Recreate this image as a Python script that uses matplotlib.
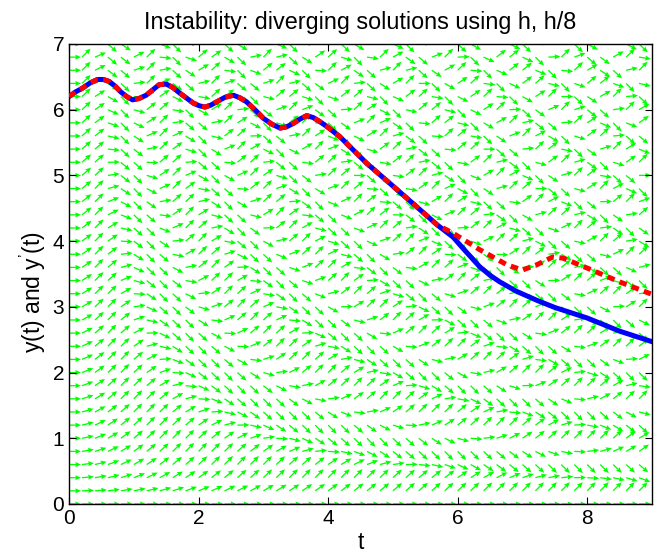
import numpy as np
import matplotlib
matplotlib.use('Agg')
import matplotlib.pyplot as plt

plt.rcParams['font.family'] = ['Liberation Sans', 'DejaVu Sans']
plt.rcParams['mathtext.fontset'] = 'custom'
plt.rcParams['mathtext.rm'] = 'Liberation Sans'

# direction-field grid (tail of each arrow), field of y' = sin(t*y)
t_grid = np.arange(0, 9.0001, 0.2)
y_grid = np.arange(0, 7.0001, 0.2)

# solution: step h/8 (blue) and h (red dashed)
t_fine = [0.0, 0.10, 0.21, 0.33, 0.44, 0.53, 0.62, 0.71, 0.80, 0.89, 0.98, 1.08,
          1.19, 1.29, 1.39, 1.50, 1.60, 1.70, 1.81, 1.92, 2.01, 2.10, 2.19, 2.28,
          2.41, 2.54, 2.64, 2.74, 2.87, 3.00, 3.13, 3.26, 3.36, 3.46, 3.57, 3.67,
          3.77, 3.87, 4.00, 4.18, 4.60, 5.01, 5.37, 5.68, 5.93, 6.10, 6.34, 6.50,
          6.65, 6.90, 7.22, 7.50, 8.00, 8.50, 9.00]
y_fine = [6.20, 6.27, 6.33, 6.41, 6.46, 6.46, 6.43, 6.36, 6.27, 6.20, 6.15, 6.17,
          6.22, 6.30, 6.38, 6.39, 6.34, 6.26, 6.18, 6.10, 6.06, 6.04, 6.07, 6.12,
          6.19, 6.22, 6.18, 6.12, 6.00, 5.87, 5.78, 5.72, 5.74, 5.79, 5.86, 5.91,
          5.88, 5.82, 5.73, 5.59, 5.18, 4.83, 4.52, 4.25, 4.06, 3.87, 3.61, 3.48,
          3.38, 3.24, 3.10, 2.99, 2.83, 2.63, 2.47]
t_coarse = [0.0, 0.10, 0.21, 0.33, 0.44, 0.53, 0.62, 0.71, 0.80, 0.89, 0.98, 1.08,
            1.19, 1.29, 1.39, 1.50, 1.60, 1.70, 1.81, 1.92, 2.01, 2.10, 2.19, 2.28,
            2.41, 2.54, 2.64, 2.74, 2.87, 3.00, 3.13, 3.26, 3.36, 3.46, 3.57, 3.67,
            3.77, 3.87, 4.00, 4.18, 4.60, 5.01, 5.37, 5.68, 5.93, 6.34, 6.76, 7.00,
            7.22, 7.47, 7.63, 8.00, 8.50, 9.00]
y_coarse = [6.20, 6.27, 6.33, 6.41, 6.46, 6.46, 6.43, 6.36, 6.27, 6.20, 6.15, 6.17,
            6.22, 6.30, 6.38, 6.39, 6.34, 6.26, 6.18, 6.10, 6.06, 6.04, 6.07, 6.12,
            6.19, 6.22, 6.18, 6.12, 6.00, 5.87, 5.78, 5.72, 5.74, 5.79, 5.86, 5.91,
            5.88, 5.82, 5.73, 5.59, 5.18, 4.83, 4.52, 4.25, 4.12, 3.87, 3.64, 3.56,
            3.64, 3.76, 3.74, 3.59, 3.38, 3.19]

x_ticks = [0, 2, 4, 6, 8]
y_ticks = [0, 1, 2, 3, 4, 5, 6, 7]

fig = plt.figure(figsize=(6.58, 5.54), dpi=100)
ax = fig.add_axes([0.1049, 0.0903, 0.886, 0.8303])

T, Y = np.meshgrid(t_grid, y_grid)
S = np.sin(T * Y)
L = np.sqrt(1 + S**2)
ax.quiver(T, Y, 1 / L, S / L, angles='xy', scale_units='xy', scale=1 / 0.185,
          color='#00ff00', width=0.0022, headwidth=4, headlength=4.5,
          headaxislength=4, pivot='tail', zorder=1)

ax.plot(t_fine, y_fine, color='#0000ff', linewidth=3.6, zorder=2)
ax.plot(t_coarse, y_coarse, color='#ff0000', linewidth=3.6, linestyle='--',
        dashes=(1.5, 1.1), dash_capstyle='butt', zorder=3)

ax.set_xlim(0, 9)
ax.set_ylim(0, 7)
ax.set_xticks(x_ticks)
ax.set_yticks(y_ticks)
ax.tick_params(direction='in', top=True, right=True, labelsize=15, length=5)
ax.set_title('Instability: diverging solutions using h, h/8', fontsize=16.8, pad=11)
ax.set_xlabel('t', fontsize=16.5, labelpad=2)
ax.set_ylabel("y(t) and y$^{\\mathregular{\u2019}}$(t)", fontsize=16.5)
ax.yaxis.set_label_coords(-0.036, 0.46)
for s in ax.spines.values():
    s.set_linewidth(1.0)

fig.savefig('out.png', dpi=100)
